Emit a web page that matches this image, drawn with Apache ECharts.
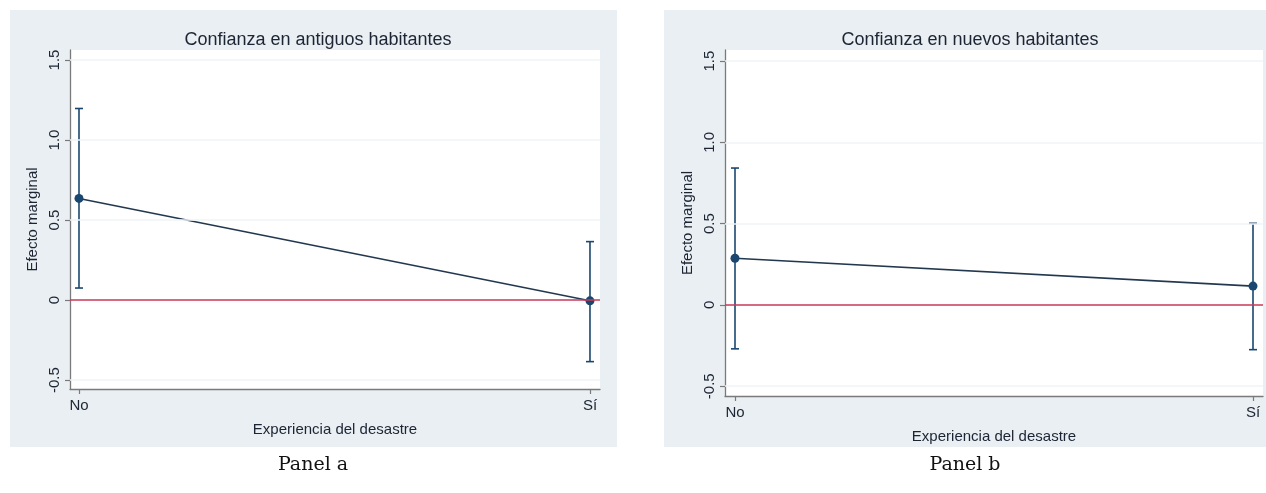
<!DOCTYPE html>
<html>
<head>
<meta charset="utf-8">
<script src="https://cdn.jsdelivr.net/npm/echarts@6/dist/echarts.min.js"></script>
<style>
html,body{margin:0;padding:0;background:#fff;}
#c{width:1266px;height:493px;}
</style>
</head>
<body>
<div id="c"></div>
<script>
// ---- data ----
const categories = ['No', 'Sí'];
const titleA = 'Confianza en antiguos habitantes';
const titleB = 'Confianza en nuevos habitantes';
const estA = [0.635, -0.005];
const lowA = [0.075, -0.385];
const highA = [1.197, 0.365];
const estB = [0.287, 0.116];
const lowB = [-0.270, -0.275];
const highB = [0.842, 0.502];
const yTicks = [-0.5, 0, 0.5, 1.0, 1.5];
const yName = 'Efecto marginal';
const xName = 'Experiencia del desastre';
const panelLabels = ['Panel a', 'Panel b'];

// ---- styling ----
const NAVY = '#1a476f';
const RED = '#c8385a';
const AXIS = '#7a7a7a';
const TXT = '#1d2433';
const BG = '#e9eff2';
const FONT = '"Liberation Sans", Arial, sans-serif';

const chart = echarts.init(document.getElementById('c'));

function pts(est) { return est.map((v, i) => [i, v]); }
function bars(lo, hi) { return lo.map((v, i) => [i, v, hi[i]]); }

function errRender(params, api) {
  const x = api.value(0);
  const a = api.coord([x, api.value(1)]);
  const b = api.coord([x, api.value(2)]);
  const st = { stroke: NAVY, lineWidth: 1.6 };
  const w = 4;
  return {
    type: 'group',
    children: [
      { type: 'line', shape: { x1: a[0], y1: a[1], x2: b[0], y2: b[1] }, style: st },
      { type: 'line', shape: { x1: a[0] - w, y1: a[1], x2: a[0] + w, y2: a[1] }, style: st },
      { type: 'line', shape: { x1: b[0] - w, y1: b[1], x2: b[0] + w, y2: b[1] }, style: st }
    ]
  };
}

function xAxis(gi, min, max) {
  return {
    gridIndex: gi, type: 'value', min: min, max: max,
    name: xName, nameLocation: 'middle', nameGap: 33,
    nameTextStyle: { color: TXT, fontFamily: FONT, fontSize: 15 },
    axisLine: { show: true, onZero: false, lineStyle: { color: AXIS, width: 1.3 } },
    axisTick: { show: true, customValues: [0, 1], length: 5, lineStyle: { color: AXIS, width: 1.2 } },
    axisLabel: { customValues: [0, 1], color: TXT, fontFamily: FONT, fontSize: 15, margin: 9,
      formatter: v => categories[Math.round(v)] },
    splitLine: { show: false }
  };
}
function yAxis(gi, min, max) {
  return {
    gridIndex: gi, type: 'value', min: min, max: max,
    name: yName, nameLocation: 'middle', nameGap: 30, nameRotate: 90,
    nameTextStyle: { color: TXT, fontFamily: FONT, fontSize: 15 },
    axisLine: { show: true, onZero: false, lineStyle: { color: AXIS, width: 1.3 } },
    axisTick: { show: true, customValues: yTicks, length: 5, lineStyle: { color: AXIS, width: 1.2 } },
    axisLabel: { customValues: yTicks, rotate: 90, color: TXT, fontFamily: FONT, fontSize: 15, margin: 8,
      formatter: v => (Math.abs(v) < 1e-9 ? '0' : v.toFixed(1)) },
    splitLine: { show: false }
  };
}

function panelSeries(gi, est, lo, hi) {
  return [
    { // faint grid lines
      type: 'line', xAxisIndex: gi, yAxisIndex: gi, data: [], silent: true, z: 1,
      markLine: { silent: true, symbol: 'none', label: { show: false },
        lineStyle: { color: '#f0f4f5', width: 1.5, type: 'solid' },
        data: yTicks.filter(v => v !== 0).map(v => ({ yAxis: v })) }
    },
    { // zero reference
      type: 'line', xAxisIndex: gi, yAxisIndex: gi, data: [], silent: true, z: 2,
      markLine: { silent: true, symbol: 'none', label: { show: false },
        lineStyle: { color: RED, width: 1.6, type: 'solid' },
        data: [{ yAxis: 0 }] }
    },
    {
      type: 'custom', xAxisIndex: gi, yAxisIndex: gi, renderItem: errRender,
      data: bars(lo, hi), z: 3, silent: true
    },
    {
      type: 'line', xAxisIndex: gi, yAxisIndex: gi, data: pts(est), z: 4,
      symbol: 'circle', symbolSize: 9, showSymbol: true,
      lineStyle: { color: '#22384f', width: 1.6 }, itemStyle: { color: NAVY },
      silent: true, animation: false
    }
  ];
}

const option = {
  animation: false,
  backgroundColor: '#ffffff',
  graphic: [
    { type: 'rect', shape: { x: 10, y: 10, width: 607, height: 437 }, style: { fill: BG }, z: -10 },
    { type: 'rect', shape: { x: 664, y: 10, width: 602, height: 437 }, style: { fill: BG }, z: -10 },
    { type: 'text', x: 313, y: 465, style: { text: panelLabels[0], font: '19px "DejaVu Serif", "Liberation Serif", serif', fill: '#111', align: 'center', verticalAlign: 'middle' } },
    { type: 'text', x: 965, y: 465, style: { text: panelLabels[1], font: '19px "DejaVu Serif", "Liberation Serif", serif', fill: '#111', align: 'center', verticalAlign: 'middle' } }
  ],
  title: [
    { text: titleA, left: 313, top: 26, textAlign: 'center',
      textStyle: { color: TXT, fontFamily: FONT, fontSize: 18, fontWeight: 'normal' } },
    { text: titleB, left: 965, top: 26, textAlign: 'center',
      textStyle: { color: TXT, fontFamily: FONT, fontSize: 18, fontWeight: 'normal' } }
  ],
  grid: [
    { left: 70, top: 50, width: 530, height: 339, show: true, backgroundColor: '#fff', borderWidth: 0 },
    { left: 725, top: 50, width: 538, height: 346, show: true, backgroundColor: '#fff', borderWidth: 0 }
  ],
  xAxis: [xAxis(0, -0.0176, 1.0196), xAxis(1, -0.0193, 1.0193)],
  yAxis: [yAxis(0, -0.556, 1.5625), yAxis(1, -0.560, 1.568)],
  series: [].concat(panelSeries(0, estA, lowA, highA), panelSeries(1, estB, lowB, highB))
};
chart.setOption(option);
</script>
</body>
</html>
